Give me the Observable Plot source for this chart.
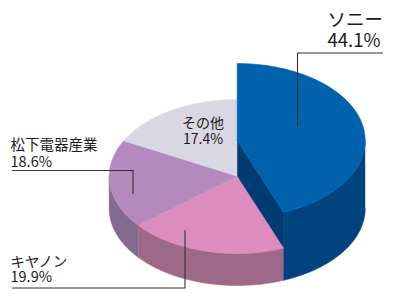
<!DOCTYPE html>
<html><head><meta charset="utf-8">
<script src="https://cdn.jsdelivr.net/npm/d3@7"></script>
<script src="https://cdn.jsdelivr.net/npm/@observablehq/plot@0.6"></script>
<style>html,body{margin:0;padding:0;background:#fff}svg{display:block}</style>
</head><body><div id="chart"></div>
<script>
// ---- data ----
const companies = ["ソニー", "キヤノン", "松下電器産業", "その他"];
const shares = [44.1, 19.9, 18.6, 17.4];
const shareLabels = ["44.1%", "19.9%", "18.6%", "17.4%"];
const topColors = ["#0062ac", "#dc8cbe", "#b48abe", "#d9d7e3"];
const sideColors = ["#00437f", "#9e6888", "#836a8e", "#b0aebb"];
const cutColor = "#003b73";
const raised = [true, false, false, false];
const drawOrder = [3, 2, 0, 1];

// ---- layout ----
const W = 394, H = 294, CX = 236.7, CY = 176, RX = 128, RY = 77, THICK = 32, LIFT = 36;
const tilt = RY / RX, zBase = -THICK / RX, zLift = LIFT / RX;
const fx = px => (px - CX) / RX, fy = py => (CY - py) / RX;

const total = d3.sum(shares);
let acc = 0;
const slices = shares.map((v, i) => {
  const a0 = acc / total * 2 * Math.PI; acc += v;
  const a1 = acc / total * 2 * Math.PI;
  return {i, a0, a1, zTop: raised[i] ? zLift : 0};
});
const P = (t, z) => ({x: Math.sin(t), y: tilt * Math.cos(t) + z});
function arc(a0, a1, z) {
  const n = Math.max(2, Math.ceil(Math.abs(a1 - a0) / (Math.PI / 360)) + 1);
  return d3.range(n).map(k => P(a0 + (a1 - a0) * k / (n - 1), z));
}
const polys = [];
for (const i of drawOrder) {
  const s = slices[i];
  if (raised[i]) {
    polys.push({fill: cutColor, pts: [{x: 0, y: s.zTop}, P(s.a1, s.zTop), P(s.a1, zBase), {x: 0, y: zBase}]});
  }
  const b = Math.max(s.a0, Math.PI / 2), e = Math.min(s.a1, 3 * Math.PI / 2);
  if (b < e) polys.push({fill: sideColors[i], pts: [...arc(b, e, s.zTop), ...arc(e, b, zBase)]});
  polys.push({fill: topColors[i], pts: [{x: 0, y: s.zTop}, ...arc(s.a0, s.a1, s.zTop)]});
}

// label layout (pixels): x, baseline of last line, font size, line height (em), anchor
const labelLayout = [
  {x: 327, y: 46.5, size: 18.5, lh: 1.11, anchor: "start"},
  {x: 10, y: 281.5, size: 14.5, lh: 1.07, anchor: "start"},
  {x: 10, y: 166.5, size: 14.5, lh: 1.14, anchor: "start"},
  {x: 202.5, y: 143, size: 14, lh: 1.14, anchor: "middle"}
];
const leaders = [
  [[382, 52.5], [297, 52.5], [297, 125]],
  [[12, 287.5], [184.5, 287.5], [184.5, 230]],
  [[12, 170], [132.5, 170], [132.5, 193]]
];

const marks = polys.map(p => Plot.line(p.pts, {x: "x", y: "y", fill: p.fill, stroke: p.fill, strokeWidth: 0.6, strokeLinejoin: "round"}));
leaders.forEach(l => marks.push(Plot.line(l.map(([x, y]) => ({x: fx(x), y: fy(y)})), {x: "x", y: "y", stroke: "#333", strokeWidth: 1.1})));
companies.forEach((c, i) => {
  const L = labelLayout[i];
  marks.push(Plot.text([{x: fx(L.x), y: fy(L.y), t: c + "\n" + shareLabels[i]}], {
    x: "x", y: "y", text: "t", fontSize: L.size, lineHeight: L.lh, textAnchor: L.anchor,
    lineAnchor: "bottom", fill: "#1a1a1a", fontFamily: "'Noto Sans CJK JP', sans-serif"
  }));
});

const chart = Plot.plot({
  width: W, height: H, margin: 0,
  x: {domain: [fx(0), fx(W)], range: [0, W], axis: null},
  y: {domain: [fy(H), fy(0)], range: [H, 0], axis: null},
  marks
});
document.getElementById("chart").appendChild(chart);
</script>
</body></html>
